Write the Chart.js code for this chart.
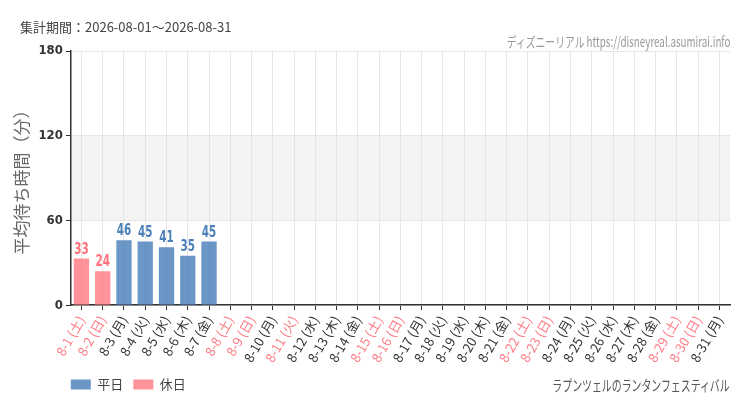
<!DOCTYPE html>
<html>
<head>
<meta charset="utf-8">
<script src="https://cdn.jsdelivr.net/npm/chart.js@4"></script>
<style>
  body { margin: 0; background: #fff; font-family: "Noto Sans CJK JP", "Noto Sans", sans-serif; }
  #wrap { position: relative; width: 750px; height: 410px; }
  .txt { position: absolute; white-space: nowrap; }
  #period { left: 20px; top: 17px; font-size: 13px; color: #444; }
  #site { right: 20px; top: 31px; font-size: 14px; color: #999; transform: scaleX(0.7); transform-origin: right center; }
  #attr { right: 20px; top: 374px; font-size: 15px; color: #555; transform: scaleX(0.66); transform-origin: right center; }
</style>
</head>
<body>
<div id="wrap">
  <canvas id="myChart" width="750" height="410"></canvas>
  <div class="txt" id="period">集計期間：2026-08-01～2026-08-31</div>
  <div class="txt" id="site">ディズニーリアル https://disneyreal.asumirai.info</div>
  <div class="txt" id="attr">ラプンツェルのランタンフェスティバル</div>
</div>
<script>
// days of August 2026 and their weekday names
const days = ['8-1','8-2','8-3','8-4','8-5','8-6','8-7','8-8','8-9','8-10','8-11','8-12','8-13','8-14','8-15','8-16',
  '8-17','8-18','8-19','8-20','8-21','8-22','8-23','8-24','8-25','8-26','8-27','8-28','8-29','8-30','8-31'];
const weekdays = ['土','日','月','火','水','木','金','土','日','月','火','水','木','金','土','日',
  '月','火','水','木','金','土','日','月','火','水','木','金','土','日','月'];
// weekends + holidays (8-11 山の日)
const holidays = ['8-1','8-2','8-8','8-9','8-11','8-15','8-16','8-22','8-23','8-29','8-30'];

// average wait (min), null = no data
const weekdayWait = [null, null, 46, 45, 41, 35, 45];
const holidayWait = [33, 24];

const yTicks = [0, 60, 120, 180];

const labels = days.map(function(d, i) { return d + ' (' + weekdays[i] + ')'; });
const isHoliday = days.map(function(d) { return holidays.indexOf(d) >= 0; });

let dataWeekday = days.map(function(d, i) {
  return (!isHoliday[i] && weekdayWait[i] != null) ? weekdayWait[i] : null;
});
let dataHoliday = days.map(function(d, i) {
  return (isHoliday[i] && holidayWait[i] != null) ? holidayWait[i] : null;
});

const blue = 'rgba(70, 125, 184, 0.8)';
const pink = 'rgba(255, 110, 120, 0.75)';

// grey band between 60 and 120
const bandPlugin = {
  id: 'band',
  beforeDraw: function(chart) {
    const y = chart.scales.y, a = chart.chartArea, c = chart.ctx;
    const top = y.getPixelForValue(120), bot = y.getPixelForValue(60);
    c.save();
    c.fillStyle = '#f4f4f4';
    c.fillRect(a.left, top, a.right - a.left, bot - top);
    c.restore();
  }
};

// nudge legend so it starts at the y axis
const legendShift = {
  id: 'legendShift',
  afterLayout: function(chart) {
    chart.legend.left -= 10;
    chart.legend.right -= 10;
  }
};

// value labels above bars (narrow font)
const valuePlugin = {
  id: 'values',
  afterDatasetsDraw: function(chart) {
    const c = chart.ctx;
    chart.data.datasets.forEach(function(ds, di) {
      chart.getDatasetMeta(di).data.forEach(function(bar, i) {
        if (ds.data[i] == null) return;
        c.save();
        c.translate(bar.x, bar.y - 1);
        c.scale(0.72, 1);
        c.font = 'bold 16px "DejaVu Sans Condensed", sans-serif';
        c.textAlign = 'center';
        c.textBaseline = 'bottom';
        c.fillStyle = di === 0 ? '#4a7fb8' : '#ff6f7a';
        c.fillText(ds.data[i], 0, 0);
        c.restore();
      });
    });
  }
};

var ctx = document.getElementById('myChart').getContext('2d');
var chart = new Chart(ctx, {
  type: 'bar',
  data: {
    labels: labels,
    datasets: [{
      label: '平日',
      backgroundColor: blue,
      data: dataWeekday
    }, {
      label: '休日',
      backgroundColor: pink,
      data: dataHoliday
    }]
  },
  options: {
    responsive: false,
    animation: false,
    layout: { padding: { top: 51, right: 20, left: 7, bottom: 9 } },
    datasets: { bar: { grouped: false, barPercentage: 0.72, categoryPercentage: 1 } },
    plugins: {
      tooltip: { enabled: false },
      legend: {
        position: 'bottom',
        align: 'start',
        fullSize: false,
        labels: {
          boxWidth: 20, boxHeight: 10,
          color: '#444',
          padding: 10,
          font: { size: 13, family: '"Noto Sans CJK JP", sans-serif' }
        }
      }
    },
    scales: {
      x: {
        grid: { offset: false, color: '#e6e6e6', tickColor: '#333', tickLength: 5 },
        border: { color: '#333', width: 1.5 },
        ticks: {
          minRotation: 60, maxRotation: 60, autoSkip: false,
          font: { size: 13, family: '"Noto Sans CJK JP", sans-serif' },
          color: function(c) { return isHoliday[c.index] ? '#ff7b85' : '#333'; }
        }
      },
      y: {
        min: 0, max: 180,
        afterBuildTicks: function(s) { s.ticks = yTicks.map(function(v) { return { value: v }; }); },
        grid: { color: '#e6e6e6', tickColor: '#333', tickLength: 5 },
        border: { color: '#333', width: 1.5 },
        ticks: { color: '#333', font: { size: 13, weight: 'bold', family: '"DejaVu Sans Condensed", sans-serif' } },
        title: {
          display: true, text: '平均待ち時間（分）', color: '#666',
          font: { size: 17, family: '"Noto Sans CJK JP", sans-serif' }
        }
      }
    }
  },
  plugins: [bandPlugin, legendShift, valuePlugin]
});
</script>
</body>
</html>
